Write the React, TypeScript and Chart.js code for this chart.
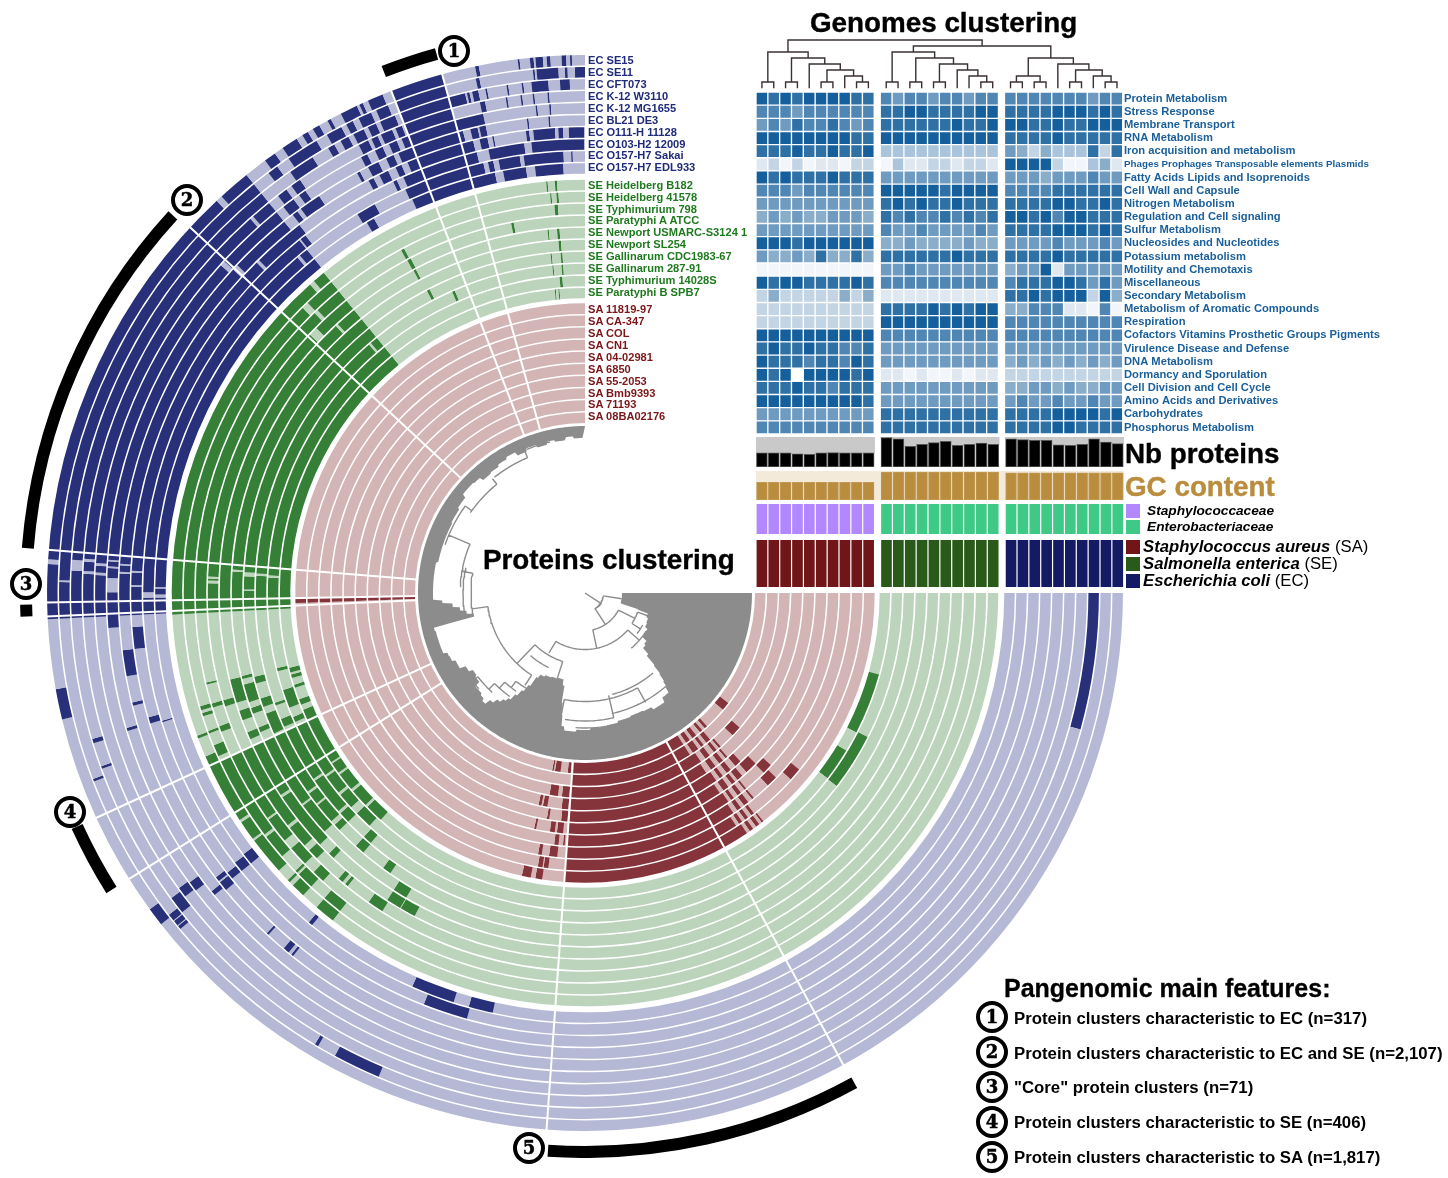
import React, { useEffect, useRef } from "react";
import { Chart, registerables } from "chart.js";

Chart.register(...registerables);

// ---------- genomes ----------
const ecGenomes = ["EC SE15", "EC SE11", "EC CFT073", "EC K-12 W3110", "EC K-12 MG1655", "EC BL21 DE3", "EC O111-H 11128", "EC O103-H2 12009", "EC O157-H7 Sakai", "EC O157-H7 EDL933"];
const seGenomes = ["SE Heidelberg B182", "SE Heidelberg 41578", "SE Typhimurium 798", "SE Paratyphi A ATCC", "SE Newport USMARC-S3124 1", "SE Newport SL254", "SE Gallinarum CDC1983-67", "SE Gallinarum 287-91", "SE Typhimurium 14028S", "SE Paratyphi B SPB7"];
const saGenomes = ["SA 11819-97", "SA CA-347", "SA COL", "SA CN1", "SA 04-02981", "SA 6850", "SA 55-2053", "SA Bmb9393", "SA 71193", "SA 08BA02176"];

// ---------- presence blocks (degrees clockwise from east, 0..270), outer ring first ----------
const ecCommon = [[177.2, 231], [248.9, 254.6]];
const ecBlocks = [
  [[142, 144], [166.4, 169.7], [233.5, 234.8], [235.8, 237.6], [238.3, 239], [239.6, 240.4], [241.4, 241.8], [243, 244.9], [245.2, 245.6], [246.2, 247.9], [258.2, 258.6], [262.8, 263], [264.1, 264.5], [264.7, 265.5], [265.9, 266.3], [267.5, 268], [268.4, 268.6]],
  [[113.1, 118.4], [120.5, 120.9], [140.3, 140.7], [140.8, 141.4], [141.5, 142.3], [159, 159.3], [233, 234.2], [235.7, 239.3], [240.6, 242.4], [243, 243.8], [244.5, 246], [246.6, 248], [258, 258.4], [264.3, 264.5], [264.7, 267.1], [267.8, 268.1], [268.9, 270]],
  [[0, 15.4], [141.6, 143.6], [160, 160.3], [163, 163.5], [235, 238], [240, 240.8], [241.6, 242.6], [243.2, 244.5], [245, 246], [246.5, 248.3], [254.6, 256.5], [256.7, 257], [257.3, 258], [258.8, 259], [261.2, 261.4], [262.9, 263.1], [264, 265.9], [267.2, 268.3]],
  [[142.8, 144], [232.3, 233.5], [234.2, 235.4], [243.2, 244.4], [244.8, 245.6], [246, 247.4], [247.8, 248.6], [257.9, 258.5], [260.9, 261.1], [262.6, 262.8], [264, 264.2], [265.7, 265.9]],
  [[142.6, 143.8], [232, 233.5], [234.3, 235.2], [242.8, 243.6], [244.6, 245.6], [246.4, 247.4], [248, 248.9], [254.6, 258], [264.2, 264.4], [265.8, 266]],
  [[140.8, 141.4], [163.2, 163.6], [175.8, 177.2], [232.3, 233], [233.5, 236.2], [241.5, 241.9], [243, 244.4], [245.4, 246.4], [247, 248.9], [254.6, 255.2], [256.1, 257], [257.2, 258], [263, 263.2], [265.6, 265.8]],
  [[128.8, 129.1], [129.5, 130.3], [132.8, 133.1], [140.4, 141.6], [141.8, 142.4], [166, 166.4], [169.7, 172.95], [231, 232.2], [242.3, 243], [243.8, 245], [246, 246.8], [247.6, 248.9], [254.6, 256.1], [256.9, 257.9], [258.5, 258.7], [262.7, 263.1], [263.6, 266.3], [266.7, 267.3], [268, 269.9]],
  [[141, 142], [163.3, 164.1], [172.9, 175.7], [231.2, 232], [245, 245.5], [246.4, 248.9], [254.6, 256.2], [257.7, 262.3], [263.2, 269.9]],
  [[105.5, 111.4], [141, 142.4], [163, 163.2], [239, 241.6], [246, 248.9], [254.6, 256.7], [257.3, 258], [258.7, 261.5], [262, 267.2], [268.2, 268.4]],
  [[102.4, 105.7], [107.8, 113.7], [129.4, 130], [141, 142.6], [239.5, 240.6], [246.3, 248.9], [254.7, 257.9], [259, 262.1], [263.3, 267.1]],
];
const ecCuts = [
  [[183.1, 183.6], [226.8, 227.5]],
  [[181.2, 181.4]],
  [[182.5, 183.7]],
  [[182.2, 182.5], [183.6, 183.9], [228.2, 228.6]],
  [[182.1, 182.4], [183.2, 183.5], [222, 222.6]],
  [[180.1, 181.8], [183, 183.2], [183.8, 184], [222.6, 223.3]],
  [[182.4, 182.6], [183.4, 183.6], [225.2, 225.6]],
  [[180.8, 181], [182.6, 182.8]],
  [[179.4, 180.1], [229.4, 229.8]],
  [[179.4, 179.8], [180.6, 180.8]],
];

const seCommon = [[177, 230.8]];
const seBlocks = [
  [[127.6, 130.5], [133, 135], [135.6, 136], [137.8, 146.3], [146.7, 155.3], [155.3, 156.7], [159.4, 159.8], [264.6, 264.8], [265.8, 266.1]],
  [[127.6, 130.5], [133, 135.5], [135.8, 136.2], [139, 155.3], [156, 157.7], [159.5, 159.9], [162.1, 162.6], [163, 163.6], [265, 265.2], [265.9, 266.2]],
  [[132.3, 134.2], [136, 139], [140.5, 155.3], [159.1, 160], [162.9, 163.5], [166.4, 166.7], [241.8, 242.3], [265.5, 266]],
  [[122.5, 125], [129, 129.5], [130, 130.8], [135.3, 137], [138, 155.3], [162.5, 163.5], [241.9, 242.5], [258.7, 259.1]],
  [[117.8, 120.3], [120.4, 122.8], [133.5, 134.5], [136.5, 155.3], [156.4, 157.6], [159.6, 161.2], [162.5, 166.3], [242, 242.4], [264.1, 264.3], [265.6, 266]],
  [[120.4, 122.8], [137.5, 155.3], [156.8, 157.6], [160, 161], [162, 165], [165.9, 166.4], [265.7, 266.1]],
  [[124.8, 126.3], [130.5, 132.2], [136, 137.2], [138, 155.3], [155.7, 159.3], [160.5, 162], [164.6, 165.8], [242.4, 242.9], [264.2, 264.4], [265.9, 266.2]],
  [[130.6, 132.2], [136, 138], [138.5, 155.3], [156, 157.5], [160, 160.5], [246.2, 246.7], [264.3, 264.5], [265.9, 266.2]],
  [[27, 37.5], [132.8, 136], [137.5, 140.5], [141, 155.3], [156, 157], [158.8, 162.2], [165.7, 166.3], [265.4, 265.9]],
  [[15.5, 27.2], [31.1, 37.4], [132, 135.5], [136, 139.5], [140, 155.3], [155.5, 157.5], [158.5, 159.6], [161.9, 162.5], [163.8, 164.5], [164.9, 165.8], [264.3, 264.5], [265, 265.2]],
];
const seCuts = [
  [[228.3, 229], [143.2, 143.5]],
  [[225.3, 226.3], [142.6, 143]],
  [[226, 226.6], [144.4, 144.7]],
  [[181.5, 181.9], [182.2, 182.5], [223.2, 224.6], [141.5, 142]],
  [[227, 227.4], [146, 146.4]],
  [[183.5, 183.8], [143, 143.3]],
  [[182.8, 183.5], [180.4, 180.6], [144, 144.4], [141.6, 141.9]],
  [[183, 183.4], [145.2, 145.6], [229, 229.4]],
  [[182.8, 183.2], [144.6, 145]],
  [[143.5, 143.9], [146, 146.3]],
];

const saCommon = [[61.3, 94.1], [178, 178.9]];
const saBlocks = [
  [[52, 52.4], [53, 53.8], [54.5, 55.3], [56, 61.3], [98.5, 99.9], [100.8, 102.6]],
  [[39.5, 42.2], [52.5, 53.2], [54, 54.8], [55.5, 56.3], [57, 61.3], [97.6, 98.6], [98.8, 99.8]],
  [[44, 46.5], [50.5, 51], [52, 53.2], [54, 55], [56, 61.3], [96, 97.8], [99.4, 100.2]],
  [[42.8, 45.2], [50.5, 51], [52, 53], [54, 54.8], [55.5, 61.3], [94.6, 95], [96, 97]],
  [[45, 48], [49.3, 50.8], [51.5, 52.5], [53.5, 55], [56, 61.3], [95.2, 96.7], [97.2, 98.4], [101.7, 102.2]],
  [[47.3, 49], [50.5, 51.8], [53, 54], [55, 61.3], [94.4, 96], [99, 99.6]],
  [[49, 49.6], [50.5, 51.8], [53, 54.5], [56, 61.3], [94.4, 96.2], [100, 101.2], [101.6, 102.4]],
  [[41, 44], [48.5, 49.2], [50, 51], [52.5, 54], [55.5, 61.3], [94.4, 96.5], [97.6, 100]],
  [[49.5, 51], [52, 53], [54, 56], [57, 61.3]],
  [[37.5, 40.3], [47.5, 48.5], [49.5, 50.5], [52, 53.5], [54.5, 56], [57, 61.3], [94.5, 95.5], [97.8, 99.6], [100, 100.5]],
];

// feature arcs 1..5 (degrees)
const featureArcs = [[61.2, 93.8], [147.9, 155.3], [177.6, 178.8], [184.6, 222.5], [248.9, 254.6]];
// radial cluster separators (degrees)
const sectorLines = [61.3, 94.1, 147.9, 155.3, 177.5, 179, 184.6, 222.8, 248.9, 254.6];

// ---------- protein dendrogram ----------
// inner edge of the grey leaves [angle, radius]
const leafEdge = [[0, 37], [16, 38], [17, 55], [18, 66], [22, 68], [26, 69], [30, 72], [34, 72], [38, 78], [41, 80], [44, 88], [46, 100], [47, 110], [48, 118], [49, 124], [50, 130], [54, 135], [60, 132], [64, 131], [70, 132], [76, 134], [81, 135], [88, 137], [94, 139], [99, 135], [100.5, 124], [101.5, 112], [102.5, 95], [104, 89], [108, 90], [112, 91], [116, 93], [118.7, 97], [120.4, 108], [122, 116], [123.5, 123], [125, 130], [126.5, 134], [128, 138], [130, 143], [132, 149], [134, 146], [136, 144], [140, 138], [143, 136], [146, 140], [149, 146], [153, 150], [157, 154], [161, 154], [166, 155], [167.5, 135], [168, 114], [170, 120], [172, 126], [174, 133], [176, 143], [177.4, 152], [186, 152], [192, 150], [199, 150], [208, 151], [214, 153], [219, 157], [225, 156], [228, 152], [231.6, 153], [236, 155], [240, 157], [244, 153], [248, 156], [252, 153], [255.8, 156], [259, 154], [263, 157], [266, 155], [269.5, 160], [270, 167]];
const leafOuter = 167;
// branches: arcs [radius, from, to], spokes [angle, r1, r2]
const branchArcs = [[18.5, 9, 57], [37.5, 27, 78], [56, 20, 33], [66, 29, 38], [56.5, 41, 121], [72, 32, 50], [72, 108, 134], [83, 116, 131], [98, 123, 172], [108.5, 61, 101], [105, 49.6, 75], [123.5, 49, 77.5], [128, 77, 99], [135, 70, 94], [112, 120, 128], [120, 125, 132], [128, 126, 135], [136, 133, 142], [143, 138, 147], [150, 145, 155], [114, 168, 190], [125, 183, 203], [122, 168, 192], [140, 215, 231], [148, 199, 216], [147, 232, 247], [155, 248, 257]];
const branchSpokes = [[33, 0, 18.5], [9, 18.5, 37], [57, 18.5, 37], [27, 37.5, 56], [20, 56, 68], [33, 56, 66], [78, 37.5, 56], [41, 56.5, 72], [121, 56.5, 70], [108, 72, 90], [134, 72, 98], [123, 98, 110], [172, 98, 114], [101, 108.5, 128], [61, 108.5, 125], [77, 105, 128], [190, 114, 125], [203, 125, 148], [216, 148, 140], [231, 140, 147], [247, 147, 155], [128, 112, 120], [132, 120, 128], [135, 128, 136], [142, 136, 143], [147, 143, 150]];

// ---------- heatmap ----------
const rowNames = ["Protein Metabolism", "Stress Response", "Membrane Transport", "RNA Metabolism", "Iron acquisition and metabolism", "Phages Prophages Transposable elements Plasmids", "Fatty Acids Lipids and Isoprenoids", "Cell Wall and Capsule", "Nitrogen Metabolism", "Regulation and Cell signaling", "Sulfur Metabolism", "Nucleosides and Nucleotides", "Potassium metabolism", "Motility and Chemotaxis", "Miscellaneous", "Secondary Metabolism", "Metabolism of Aromatic Compounds", "Respiration", "Cofactors Vitamins Prosthetic Groups Pigments", "Virulence Disease and Defense", "DNA Metabolism", "Dormancy and Sporulation", "Cell Division and Cell Cycle", "Amino Acids and Derivatives", "Carbohydrates", "Phosphorus Metabolism"];
const heatLevels = [
  "9898999988" + "7677677677" + "7777777677",
  "7776777777" + "8899888899" + "8888999898",
  "6768778767" + "8888889889" + "9988988999",
  "9999999988" + "9999999999" + "8888988888",
  "8889889889" + "4444444444" + "6535444838",
  "2313122133" + "1422332332" + "9999311452",
  "9898889888" + "6666666666" + "6665666766",
  "7776777777" + "9999989999" + "7777888888",
  "6666666666" + "8989889888" + "8888998898",
  "5656556665" + "8787787878" + "9989799888",
  "6666666666" + "7667666676" + "8888999898",
  "9998999999" + "5565555655" + "6666766676",
  "6556585585" + "8888889888" + "8888988888",
  "1111111111" + "6676666666" + "5669266666",
  "9899888898" + "7777777777" + "7888998686",
  "3533333535" + "2222222222" + "8898999395",
  "3333333333" + "8888989899" + "5577722171",
  "3333333333" + "9999999999" + "7777777777",
  "9999999999" + "7777777777" + "7777777777",
  "8988988778" + "6666666666" + "6666666666",
  "9888788798" + "6666666666" + "5656565656",
  "9890999989" + "2212112122" + "3333333333",
  "8889887888" + "6666666666" + "5566565566",
  "9999999998" + "6666666666" + "6766766766",
  "6666666666" + "8888888888" + "8888999989",
  "7777777777" + "8888888888" + "8888998888",
];
const heatPalette = ["#ffffff", "#f2f6fa", "#dfe8f1", "#c3d5e5", "#a9c4db", "#8aaeca", "#6f9bc0", "#4f86b3", "#2f71a5", "#15609c"];

// ---------- genome tracks ----------
const nbProteins = [2680, 2680, 2680, 2510, 2400, 2680, 2740, 2680, 2680, 2680, 5590, 5360, 3930, 4330, 4620, 4900, 4100, 4330, 4560, 4330, 5360, 5190, 5070, 5070, 4220, 4100, 4330, 5360, 4730, 4450];
const gcContent = [33, 33, 33, 33, 33, 33, 33, 33, 33, 33, 52.2, 52.2, 52.2, 52.2, 52.2, 52.2, 52.2, 52.2, 52.2, 52.2, 50.6, 50.6, 50.6, 50.6, 50.6, 50.6, 50.6, 50.6, 50.6, 50.6];
const familyNames = ["Staphylococcaceae", "Enterobacteriaceae"];
const familyColors = ["#b388ff", "#3ec986"];
const speciesNames = ["Staphylococcus aureus", "Salmonella enterica", "Escherichia coli"];
const speciesCodes = ["SA", "SE", "EC"];
const speciesColors = ["#701518", "#2a5a19", "#141a63"];
// genome linkage: [left, right, height]; nodes 0..29 are leaves, 30.. are merges in order
const genomeLinkage = [[0, 1, 6.3], [2, 3, 6.3], [5, 6, 6.3], [8, 9, 6.3], [7, 33, 12.3], [32, 34, 18.3], [4, 35, 24.3], [31, 36, 30.3], [30, 37, 36.3], [10, 11, 6.3], [12, 13, 6.3], [14, 15, 6.3], [18, 19, 6.3], [17, 42, 12.3], [16, 43, 18.3], [41, 44, 24.3], [40, 45, 30.3], [39, 46, 36.3], [20, 21, 6.3], [22, 23, 6.3], [48, 49, 12.3], [25, 26, 6.3], [28, 29, 6.3], [27, 52, 12.3], [51, 53, 18.3], [24, 54, 24.3], [50, 55, 30.3], [47, 56, 42.3], [38, 57, 48.3]];

const features = ["Protein clusters characteristic to EC (n=317)", "Protein clusters characteristic to EC and SE (n=2,107)", "\"Core\" protein clusters (n=71)", "Protein clusters characteristic to SE (n=406)", "Protein clusters characteristic to SA (n=1,817)"];

// ---------- layout ----------
const CX = 585, CY = 593;
const HEAT_LEFT = 756, HEAT_W = 367.2, CELL = 11.83, GROUP_GAP = 6;
const FONT = '"Liberation Sans", Arial, sans-serif';
const colCenter = (i: number) => (i + 0.5) * CELL + Math.floor(i / 10) * GROUP_GAP;
const polar = (deg: number, r: number) => {
  const a = (deg * Math.PI) / 180;
  return { x: CX + r * Math.cos(a), y: CY + r * Math.sin(a) };
};

function spans(blocks: number[][], cuts: number[][], dark: string, light: string) {
  const sorted = blocks.map((b) => b.slice()).sort((a, b) => a[0] - b[0]);
  const merged: number[][] = [];
  for (const b of sorted) {
    const last = merged[merged.length - 1];
    if (last && b[0] <= last[1]) last[1] = Math.max(last[1], b[1]);
    else merged.push(b);
  }
  let parts = merged;
  for (const c of cuts) {
    const next: number[][] = [];
    for (const p of parts) {
      if (c[1] <= p[0] || c[0] >= p[1]) next.push(p);
      else {
        if (c[0] > p[0]) next.push([p[0], c[0]]);
        if (c[1] < p[1]) next.push([c[1], p[1]]);
      }
    }
    parts = next;
  }
  const data: number[] = [];
  const backgroundColor: string[] = [];
  let at = 0;
  for (const p of parts) {
    if (p[0] > at) { data.push(p[0] - at); backgroundColor.push(light); }
    data.push(p[1] - p[0]);
    backgroundColor.push(dark);
    at = p[1];
  }
  if (at < 270) { data.push(270 - at); backgroundColor.push(light); }
  return { data, backgroundColor };
}

function ringDatasets() {
  const out: any[] = [];
  const blank = (weight: number) => out.push({ data: [270], backgroundColor: ["rgba(0,0,0,0)"], weight });
  const tier = (blocks: number[][][], common: number[][], cuts: number[][][] | null, dark: string, light: string, w: number, gap: number) => {
    blocks.forEach((b, i) => {
      out.push({ ...spans([...common, ...b], cuts ? cuts[i] : [], dark, light), weight: w });
      if (i < blocks.length - 1) blank(gap);
    });
  };
  out.push({ ...spans(featureArcs, [], "#000000", "rgba(0,0,0,0)"), weight: 12 });
  blank(15);
  tier(ecBlocks, ecCommon, ecCuts, "#283079", "#b5b9d5", 10.5, 1.5);
  blank(6);
  tier(seBlocks, seCommon, seCuts, "#357f36", "#bbd4bb", 10.4, 1.6);
  blank(5);
  tier(saBlocks, saCommon, null, "#84343a", "#d3b5b6", 10.6, 1.5);
  return out;
}

const silent = { animation: false as const, responsive: false, events: [] as any[], plugins: { legend: { display: false }, tooltip: { enabled: false } }, layout: { padding: 0 } };

function overlayDatasets() {
  const gap = { x: NaN, y: NaN };
  const seps: any[] = [];
  sectorLines.forEach((a) => seps.push(polar(a, 169), polar(a, 539), gap));
  const branches: any[] = [];
  branchArcs.forEach(([r, a, b]) => {
    for (let d = a; d < b; d += 1.5) branches.push(polar(d, r));
    branches.push(polar(b, r), gap);
  });
  branchSpokes.forEach(([a, r1, r2]) => branches.push(polar(a, r1), polar(a, r2), gap));
  // genome tree
  const nodes: { x: number; y: number }[] = [];
  const base = 88.3;
  for (let i = 0; i < 30; i++) nodes.push({ x: HEAT_LEFT + colCenter(i), y: base });
  const tree: any[] = [];
  genomeLinkage.forEach(([l, r, h]) => {
    const L = nodes[l], R = nodes[r], y = base - h;
    tree.push({ x: L.x, y: L.y }, { x: L.x, y }, { x: R.x, y }, { x: R.x, y: R.y }, gap);
    nodes.push({ x: (L.x + R.x) / 2, y });
  });
  const line = { showLine: true, pointRadius: 0, spanGaps: false, fill: false };
  return [
    { ...line, data: tree, borderColor: "#3a3036", borderWidth: 1.4 },
    { ...line, data: branches, borderColor: "#8c8c8c", borderWidth: 1.4 },
    { ...line, data: seps, borderColor: "#ffffff", borderWidth: 2 },
  ];
}

function stripChart(canvas: HTMLCanvasElement, values: number[], colors: string[], max: number, thick: number, edge: string | null, rest: string | null) {
  const xs = values.map((_, i) => colCenter(i));
  const datasets: any[] = [{ data: values.map((v, i) => ({ x: xs[i], y: v })), backgroundColor: colors, borderColor: edge || "transparent", borderWidth: edge ? 1 : 0, borderSkipped: false, barThickness: thick, stack: "a" }];
  if (rest) datasets.push({ data: values.map((v, i) => ({ x: xs[i], y: max - v })), backgroundColor: rest, borderWidth: 0, barThickness: 12, stack: "a" });
  return new Chart(canvas, {
    type: "bar",
    data: { datasets },
    options: {
      ...silent,
      scales: {
        x: { type: "linear", min: 0, max: HEAT_W, display: false, offset: false, stacked: true },
        y: { min: 0, max, display: false, stacked: true },
      },
    } as any,
  });
}

const badge = (n: number, x: number, y: number) => (
  <div key={`b${n}${x}`} style={{ position: "absolute", left: x - 16, top: y - 16, width: 32, height: 32, boxSizing: "border-box", border: "4.5px solid #000", borderRadius: "50%", background: "#fff", color: "#000", font: `bold 18px "DejaVu Serif", serif`, lineHeight: "23px", textAlign: "center", WebkitTextStroke: "0.5px #000" } as any}>{n}</div>
);
const text = (s: React.ReactNode, x: number, y: number, font: string, color: string, key: string, stroke = 0) => (
  <div key={key} style={{ position: "absolute", left: x, top: y, transform: "translateY(-50%)", font, color, whiteSpace: "nowrap", lineHeight: 1, WebkitTextStroke: stroke ? `${stroke}px ${color}` : undefined } as any}>{s}</div>
);
const swatch = (x: number, y: number, h: number, c: string, k: string) => (
  <div key={k} style={{ position: "absolute", left: x, top: y, width: 14, height: h, background: c }} />
);

export default function App() {
  const ringRef = useRef<HTMLCanvasElement>(null);
  const leafRef = useRef<HTMLCanvasElement>(null);
  const heatRef = useRef<HTMLCanvasElement>(null);
  const nbRef = useRef<HTMLCanvasElement>(null);
  const gcRef = useRef<HTMLCanvasElement>(null);
  const famRef = useRef<HTMLCanvasElement>(null);
  const spRef = useRef<HTMLCanvasElement>(null);
  const overRef = useRef<HTMLCanvasElement>(null);

  useEffect(() => {
    const charts: Chart[] = [];
    charts.push(new Chart(ringRef.current!, {
      type: "doughnut",
      data: { datasets: ringDatasets() },
      options: { ...silent, rotation: 90, circumference: 270, cutout: 170, spacing: 0, borderWidth: 0, hoverOffset: 0, offset: 0, elements: { arc: { borderWidth: 0, hoverOffset: 0 } } } as any,
    }));

    const labels = Array.from({ length: 720 }, (_, i) => String(i / 2));
    const edgeAt = (deg: number) => {
      if (deg > 270) return 0;
      let r = leafEdge[0][1];
      for (const k of leafEdge) if (k[0] <= deg) r = k[1];
      return r;
    };
    charts.push(new Chart(leafRef.current!, {
      type: "radar",
      data: {
        labels,
        datasets: [
          { data: labels.map((l) => edgeAt(+l)), backgroundColor: "#ffffff", borderWidth: 0, pointRadius: 0, fill: "origin" },
          { data: labels.map((l) => (+l <= 270 ? leafOuter : 0)), backgroundColor: "#8c8c8c", borderWidth: 0, pointRadius: 0, fill: "origin" },
        ],
      },
      options: { ...silent, scales: { r: { min: 0, max: 170, display: false, startAngle: 90, pointLabels: { display: false } } } } as any,
    }));

    const columnSets: any[] = [];
    for (let c = 0; c < 30; c++) {
      if (c === 10 || c === 20) columnSets.push({ data: rowNames.map(() => GROUP_GAP), backgroundColor: "rgba(0,0,0,0)", borderWidth: 0 });
      columnSets.push({
        data: rowNames.map(() => CELL),
        backgroundColor: heatLevels.map((row) => heatPalette[+row[c]]),
        borderColor: "#ffffff",
        borderWidth: 1,
        borderSkipped: false,
      });
    }
    charts.push(new Chart(heatRef.current!, {
      type: "bar",
      data: { labels: rowNames, datasets: columnSets },
      options: {
        ...silent,
        indexAxis: "y",
        datasets: { bar: { barPercentage: 1, categoryPercentage: 1 } },
        scales: {
          x: { stacked: true, min: 0, max: HEAT_W, display: false },
          y: {
            stacked: true,
            position: "right",
            afterFit: (s: any) => { s.width = 322; s.paddingTop = 0; s.paddingBottom = 0; },
            border: { display: false },
            grid: { display: false, drawTicks: false },
            ticks: {
              autoSkip: false,
              padding: 1,
              color: "#1a5f9a",
              font: (ctx: any) => ({ family: FONT, weight: "bold", size: ctx.index === 5 ? 9.8 : 11.2 }),
            },
          },
        },
      } as any,
    }));

    charts.push(stripChart(nbRef.current!, nbProteins, nbProteins.map(() => "#000000"), 5700, 11, "#555555", "#c9c9c9"));
    charts.push(stripChart(gcRef.current!, gcContent, gcContent.map(() => "#ba8c3e"), 54, 10.8, "#c09a55", null));
    charts.push(stripChart(famRef.current!, nbProteins.map(() => 1), nbProteins.map((_, i) => familyColors[i < 10 ? 0 : 1]), 1, 10, null, null));
    charts.push(stripChart(spRef.current!, nbProteins.map(() => 1), nbProteins.map((_, i) => speciesColors[Math.floor(i / 10)]), 1, 10, null, null));

    charts.push(new Chart(overRef.current!, {
      type: "scatter",
      data: { datasets: overlayDatasets() },
      options: {
        ...silent,
        scales: {
          x: { type: "linear", min: 0, max: 1448, display: false },
          y: { type: "linear", min: 0, max: 1178, reverse: true, display: false },
        },
      } as any,
    }));
    return () => charts.forEach((c) => c.destroy());
  }, []);

  const abs = (left: number, top: number, extra: any = {}) => ({ position: "absolute" as const, left, top, pointerEvents: "none" as const, ...extra });
  const small = `bold 11.1px ${FONT}`;
  const big = `bold 27.8px ${FONT}`;
  return (
    <div style={{ position: "absolute", left: 0, top: 0, width: 1448, height: 1178, overflow: "hidden", background: "#fff", fontFamily: FONT }}>
      <canvas ref={ringRef} width={1130} height={1130} style={abs(CX - 565, CY - 565)} />
      <canvas ref={leafRef} width={340} height={340} style={abs(CX - 170, CY - 170)} />
      <canvas ref={heatRef} width={689} height={342} style={abs(HEAT_LEFT, 92)} />
      <canvas ref={nbRef} width={368} height={30} style={abs(HEAT_LEFT, 437)} />
      <canvas ref={gcRef} width={368} height={29} style={abs(HEAT_LEFT, 471, { background: "#f3ead9" })} />
      <canvas ref={famRef} width={368} height={30} style={abs(HEAT_LEFT, 504)} />
      <canvas ref={spRef} width={368} height={47} style={abs(HEAT_LEFT, 540)} />
      <canvas ref={overRef} width={1448} height={1178} style={abs(0, 0)} />

      {ecGenomes.map((g, i) => text(g, 588, 61 + i * 11.93, small, "#1f2a78", g))}
      {seGenomes.map((g, i) => text(g, 588, 185.7 + i * 11.9, small, "#1f7a1f", g))}
      {saGenomes.map((g, i) => text(g, 588, 310 + i * 11.93, small, "#7a1518", g))}

      {text("Genomes clustering", 810, 23, big, "#000", "t1", 0.4)}
      {text("Proteins clustering", 483, 560, big, "#000", "t2", 0.4)}
      {text("Nb proteins", 1125, 454, big, "#000", "t3", 0.4)}
      {text("GC content", 1125, 487, big, "#ba8c3e", "t4", 0.4)}

      {familyNames.map((n, i) => swatch(1126, 504 + i * 16, 13.5, familyColors[i], n))}
      {familyNames.map((n, i) => text(<i>{n}</i>, 1147, 510.5 + i * 16, `bold 13.7px ${FONT}`, "#000", n + "t"))}
      {speciesNames.map((n, i) => swatch(1126, 540 + i * 17, 13.5, speciesColors[i], n))}
      {speciesNames.map((n, i) => text(<><i>{n}</i><span style={{ fontWeight: 400 }}> ({speciesCodes[i]})</span></>, 1143, 547 + i * 17, `bold 16.7px ${FONT}`, "#000", n + "t"))}

      {text("Pangenomic main features:", 1004, 988, `bold 25px ${FONT}`, "#000", "t5", 0.3)}
      {features.map((f, i) => text(f, 1014, 1019 + i * 34.7, `bold 16.8px ${FONT}`, "#000", f))}
      {features.map((_, i) => badge(i + 1, 992, 1017 + i * 35))}

      {badge(1, 454, 51)}
      {badge(2, 187, 200)}
      {badge(3, 26, 584)}
      {badge(4, 70, 812)}
      {badge(5, 529, 1148)}
    </div>
  );
}
